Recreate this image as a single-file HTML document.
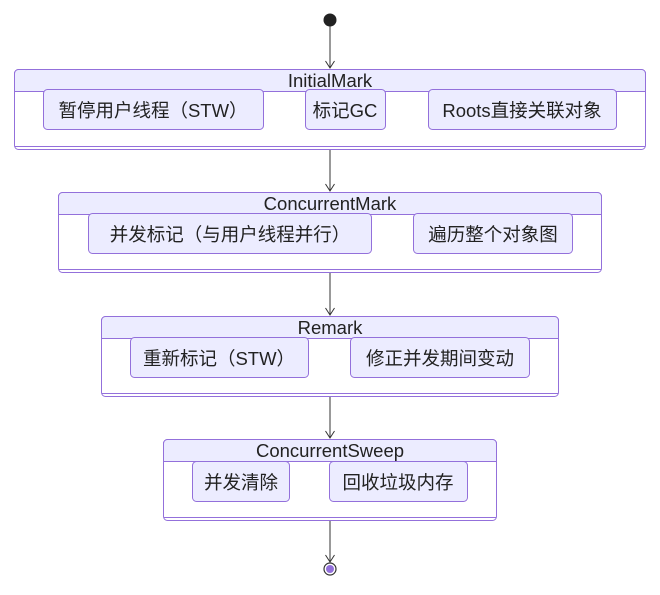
<!DOCTYPE html>
<html><head><meta charset="utf-8"><style>
body{margin:0;background:#fff;}
text{font-family:"Liberation Sans","Noto Sans CJK SC",sans-serif;fill:#222;}
</style></head><body>
<svg width="660" height="590" viewBox="0 0 660 590" xmlns="http://www.w3.org/2000/svg">
<g stroke="#333" stroke-width="1" fill="none">
<line x1="330" y1="26" x2="330" y2="68"/>
<line x1="330" y1="150" x2="330" y2="191"/>
<line x1="330" y1="272" x2="330" y2="315"/>
<line x1="330" y1="396" x2="330" y2="438"/>
<line x1="330" y1="520" x2="330" y2="562"/>
<path d="M325.5,61 L330,68 L334.5,61"/>
<path d="M325.5,184 L330,191 L334.5,184"/>
<path d="M325.5,308 L330,315 L334.5,308"/>
<path d="M325.5,431 L330,438 L334.5,431"/>
<path d="M325.5,555 L330,562 L334.5,555"/>
</g>
<circle cx="330" cy="20" r="6.5" fill="#222"/>
<circle cx="330" cy="569" r="6" fill="#fff" stroke="#333" stroke-width="1.2"/>
<circle cx="330" cy="569" r="4" fill="#9370db"/>
<g stroke="#9370db" stroke-width="1">
<rect x="14.5" y="69.5" width="631" height="80" rx="4" fill="#fff"/>
<path d="M14.5 91.5 V73.5 a4 4 0 0 1 4 -4 H641.5 a4 4 0 0 1 4 4 V91.5 Z" fill="#ececff"/>
<line x1="14.5" y1="146.5" x2="645.5" y2="146.5"/>
<rect x="43.5" y="89.5" width="220" height="40" rx="4" fill="#ececff"/>
<rect x="305.5" y="89.5" width="80" height="40" rx="4" fill="#ececff"/>
<rect x="428.5" y="89.5" width="188" height="40" rx="4" fill="#ececff"/>
<rect x="58.5" y="192.5" width="543" height="80" rx="4" fill="#fff"/>
<path d="M58.5 214.5 V196.5 a4 4 0 0 1 4 -4 H597.5 a4 4 0 0 1 4 4 V214.5 Z" fill="#ececff"/>
<line x1="58.5" y1="269.5" x2="601.5" y2="269.5"/>
<rect x="88.5" y="213.5" width="283" height="40" rx="4" fill="#ececff"/>
<rect x="413.5" y="213.5" width="159" height="40" rx="4" fill="#ececff"/>
<rect x="101.5" y="316.5" width="457" height="80" rx="4" fill="#fff"/>
<path d="M101.5 338.5 V320.5 a4 4 0 0 1 4 -4 H554.5 a4 4 0 0 1 4 4 V338.5 Z" fill="#ececff"/>
<line x1="101.5" y1="393.5" x2="558.5" y2="393.5"/>
<rect x="130.5" y="337.5" width="178" height="40" rx="4" fill="#ececff"/>
<rect x="350.5" y="337.5" width="179" height="40" rx="4" fill="#ececff"/>
<rect x="163.5" y="439.5" width="333" height="81" rx="4" fill="#fff"/>
<path d="M163.5 461.5 V443.5 a4 4 0 0 1 4 -4 H492.5 a4 4 0 0 1 4 4 V461.5 Z" fill="#ececff"/>
<line x1="163.5" y1="517.5" x2="496.5" y2="517.5"/>
<rect x="192.5" y="461.5" width="97" height="40" rx="4" fill="#ececff"/>
<rect x="329.5" y="461.5" width="138" height="40" rx="4" fill="#ececff"/>
</g>
<g font-size="18.5" text-anchor="middle">
<text x="330" y="87">InitialMark</text>
<text x="153" y="117">暂停用户线程（STW）</text>
<text x="345" y="117">标记GC</text>
<text x="522" y="117">Roots直接关联对象</text>
<text x="330" y="210">ConcurrentMark</text>
<text x="230" y="241">并发标记（与用户线程并行）</text>
<text x="493" y="241">遍历整个对象图</text>
<text x="330" y="334">Remark</text>
<text x="219" y="365">重新标记（STW）</text>
<text x="440" y="365">修正并发期间变动</text>
<text x="330" y="457">ConcurrentSweep</text>
<text x="241" y="489">并发清除</text>
<text x="398" y="489">回收垃圾内存</text>
</g>
</svg>
</body></html>
